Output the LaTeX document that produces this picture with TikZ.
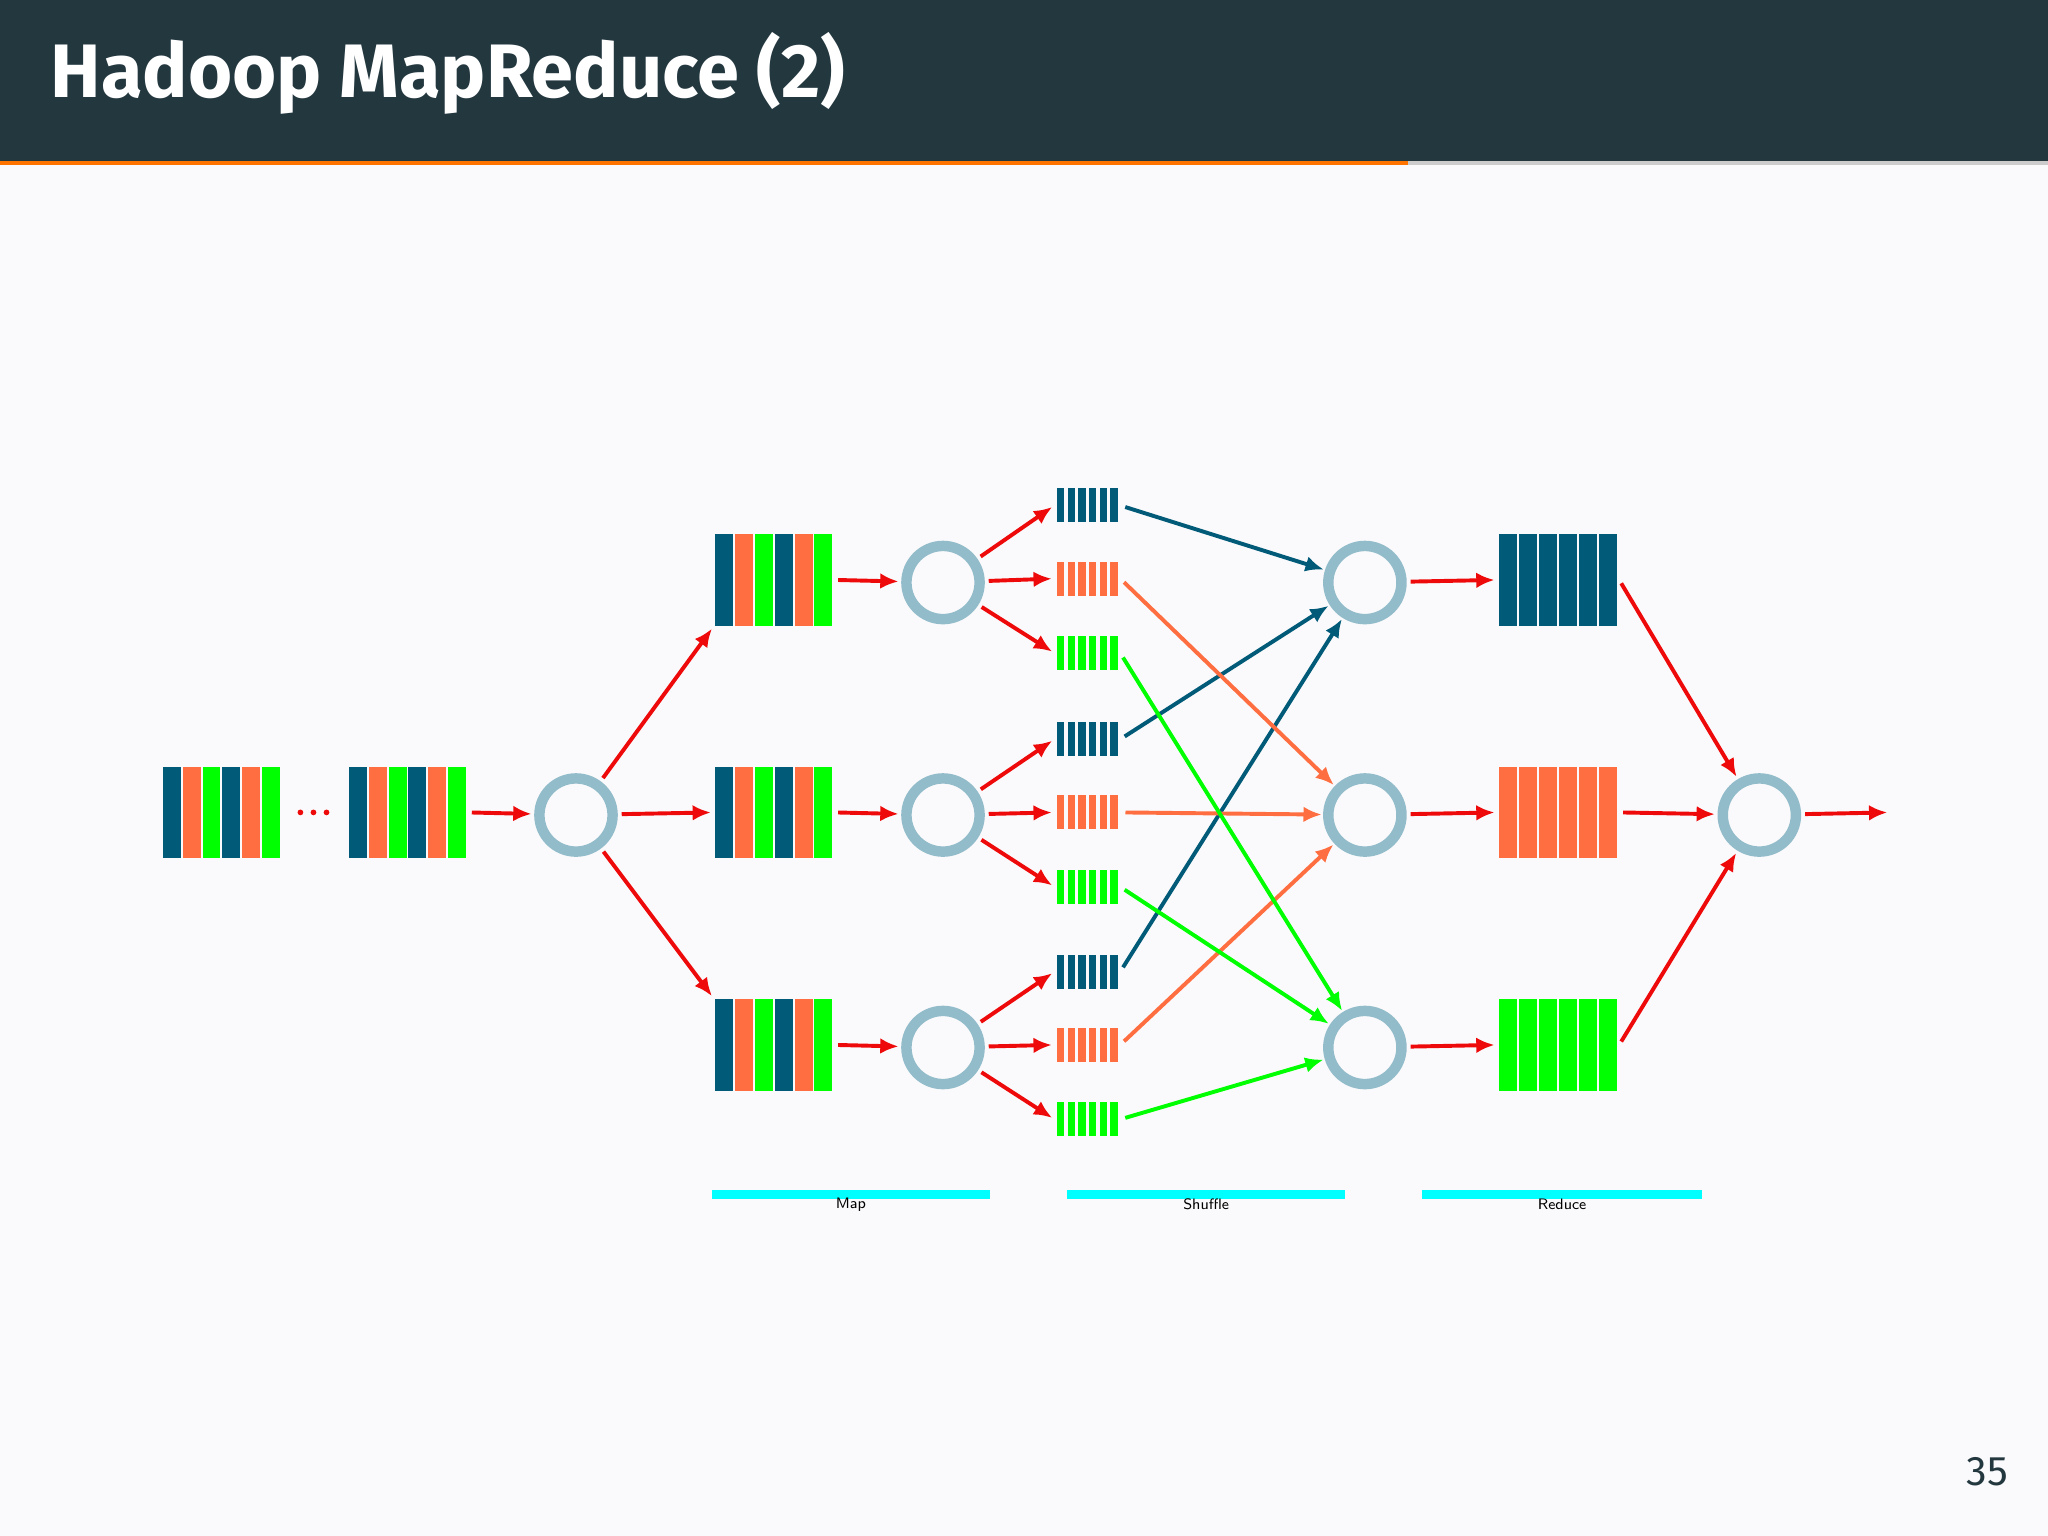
\documentclass[tikz,border=0pt]{standalone}
\usepackage{fontspec}
\setmainfont{Fira Sans}
\usepackage{tikz}
\usetikzlibrary{arrows.meta}
\definecolor{hdr}{HTML}{23373F}
\definecolor{bl}{HTML}{005A78}
\definecolor{orn}{HTML}{FF6E40}
\definecolor{grn}{HTML}{00FF00}
\definecolor{ring}{HTML}{93BCCB}
\definecolor{rd}{HTML}{EE0A0A}
\definecolor{cy}{HTML}{00FFFF}
\definecolor{bgc}{HTML}{FAFAFC}
\newcommand\blk[7]{%
  \node[inner sep=0pt,minimum width={#4*0.01cm},minimum height={#5*0.01cm}] (#1) at (#2,#3) {};
  \foreach \stcol [count=\sti] in {#7}{
    \pgfmathsetmacro\xa{#2-#4/2+(\sti-1)*#4/6+#6/2}
    \pgfmathsetmacro\xb{#2-#4/2+\sti*#4/6-#6/2}
    \pgfmathsetmacro\ya{#3-#5/2}
    \pgfmathsetmacro\yb{#3+#5/2}
    \fill[\stcol] (\xa,\ya) rectangle (\xb,\yb);
  }}
\tikzset{
  ringc/.style={circle,draw=ring,line width=0.08cm,minimum size=0.56cm,inner sep=0pt},
  arr/.style={rd,line width=0.03cm,-{Latex[length=0.14cm,width=0.12cm]},shorten >=0.02cm,shorten <=0.03cm},
  sh/.style={line width=0.03cm,-{Latex[length=0.14cm,width=0.12cm]},shorten >=0.01cm,shorten <=0.04cm},
  lbl/.style={font=\fontsize{3.3}{4}\selectfont\sffamily,inner sep=0pt}
}
\begin{document}
\begin{tikzpicture}[x=0.01cm,y=-0.01cm]
\fill[bgc] (0,0) rectangle (1568,1176);
\useasboundingbox (0,0) rectangle (1568,1176);
\fill[hdr] (0,0) rectangle (1568,123);
\fill[orange!90!red] (0,123) rectangle (1078,126.5);
\fill[gray!40] (1078,123) rectangle (1568,126.5);
\node[anchor=base west,text=white,font=\fontsize{16.5}{18}\selectfont\bfseries,inner sep=0pt] (title) at (38,75) {Hadoop MapReduce (2)};
\node[anchor=base east,text=hdr,font=\fontsize{9}{10}\selectfont,inner sep=0pt] (pg) at (1538,1137) {35};
% input
\blk{in1}{169.5}{622}{91}{70}{1.5}{bl,orn,grn,bl,orn,grn}
\blk{in2}{312}{622}{91}{70}{1.5}{bl,orn,grn,bl,orn,grn}
\fill[rd] (230,622) circle (2.2);
\fill[rd] (240,622) circle (2.2);
\fill[rd] (250,622) circle (2.2);
\node[ringc] (c0) at (441,624) {};
\draw[arr] (in2.east) -- (c0);
% map
\blk{m1}{592.5}{444}{91}{70}{1.5}{bl,orn,grn,bl,orn,grn}
\blk{m2}{592.5}{622}{91}{70}{1.5}{bl,orn,grn,bl,orn,grn}
\blk{m3}{592.5}{800}{91}{70}{1.5}{bl,orn,grn,bl,orn,grn}
\node[ringc] (c1) at (722,446) {};
\node[ringc] (c2) at (722,624) {};
\node[ringc] (c3) at (722,802) {};
\draw[arr] (m1.east) -- (c1);
\draw[arr] (m2.east) -- (c2);
\draw[arr] (m3.east) -- (c3);
\draw[arr] (c0) -- (m1.south west);
\draw[arr] (c0) -- (m2.west);
\draw[arr] (c0) -- (m3.north west);
% shuffle blocks
\blk{s1b}{832.5}{387}{49}{26}{2.4}{bl,bl,bl,bl,bl,bl}
\blk{s1o}{832.5}{443}{49}{26}{2.4}{orn,orn,orn,orn,orn,orn}
\blk{s1g}{832.5}{500}{49}{26}{2.4}{grn,grn,grn,grn,grn,grn}
\blk{s2b}{832.5}{566}{49}{26}{2.4}{bl,bl,bl,bl,bl,bl}
\blk{s2o}{832.5}{622}{49}{26}{2.4}{orn,orn,orn,orn,orn,orn}
\blk{s2g}{832.5}{679}{49}{26}{2.4}{grn,grn,grn,grn,grn,grn}
\blk{s3b}{832.5}{744}{49}{26}{2.4}{bl,bl,bl,bl,bl,bl}
\blk{s3o}{832.5}{800}{49}{26}{2.4}{orn,orn,orn,orn,orn,orn}
\blk{s3g}{832.5}{857}{49}{26}{2.4}{grn,grn,grn,grn,grn,grn}
\foreach \n in {1,2,3}{
  \draw[arr] (c\n) -- (s\n b.west);
  \draw[arr] (c\n) -- (s\n o.west);
  \draw[arr] (c\n) -- (s\n g.west);
}
% reduce
\node[ringc] (r1) at (1045,446) {};
\node[ringc] (r2) at (1045,624) {};
\node[ringc] (r3) at (1045,802) {};
\blk{rb1}{1193}{444}{92}{70}{1.5}{bl,bl,bl,bl,bl,bl}
\blk{rb2}{1193}{622}{92}{70}{1.5}{orn,orn,orn,orn,orn,orn}
\blk{rb3}{1193}{800}{92}{70}{1.5}{grn,grn,grn,grn,grn,grn}
\draw[arr] (r1) -- (rb1.west);
\draw[arr] (r2) -- (rb2.west);
\draw[arr] (r3) -- (rb3.west);
\draw[sh,bl] (s1b.east) -- (r1);
\draw[sh,bl] (s2b.east) -- (r1);
\draw[sh,bl] (s3b.east) -- (r1);
\draw[sh,orn] (s1o.east) -- (r2);
\draw[sh,orn] (s2o.east) -- (r2);
\draw[sh,orn] (s3o.east) -- (r2);
\draw[sh,grn] (s1g.east) -- (r3);
\draw[sh,grn] (s2g.east) -- (r3);
\draw[sh,grn] (s3g.east) -- (r3);
\node[ringc] (fc) at (1347,624) {};
\draw[arr] (rb1.east) -- (fc);
\draw[arr] (rb2.east) -- (fc);
\draw[arr] (rb3.east) -- (fc);
\coordinate (out) at (1447,622);
\draw[arr] (fc) -- (out);
% phases
\fill[cy] (545,911) rectangle (758,918);
\fill[cy] (817,911) rectangle (1030,918);
\fill[cy] (1089,911) rectangle (1303,918);
\node[lbl] (lm) at (651.5,922) {Map};
\node[lbl] (ls) at (923.5,922) {Shuffle};
\node[lbl] (lr) at (1196,922) {Reduce};
\end{tikzpicture}
\end{document}
